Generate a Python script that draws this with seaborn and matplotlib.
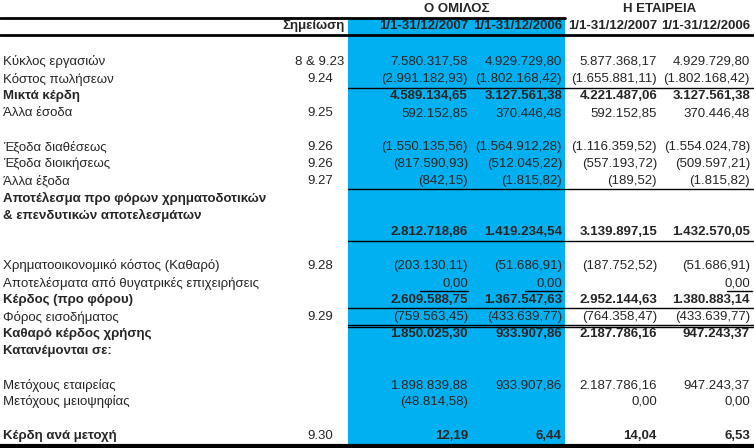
import matplotlib
matplotlib.use("Agg")
import matplotlib.pyplot as plt
import seaborn as sns

sns.set_theme(style="white", rc={"font.family": ["Liberation Sans Narrow", "Liberation Sans", "DejaVu Sans"]})

BLUE = "#00b0f0"

# (label, note, group 2007, group 2006, company 2007, company 2006, bold)
labels = [
    "Κύκλος εργασιών", "Κόστος πωλήσεων", "Μικτά κέρδη", "Άλλα έσοδα", "",
    "Έξοδα διαθέσεως", "Έξοδα διοικήσεως", "Άλλα έξοδα",
    "Αποτέλεσμα προ φόρων χρηματοδοτικών", "& επενδυτικών αποτελεσμάτων", "", "",
    "Χρηματοοικονομικό κόστος (Καθαρό)", "Αποτελέσματα από θυγατρικές επιχειρήσεις",
    "Κέρδος (προ φόρου)", "Φόρος εισοδήματος", "Καθαρό κέρδος χρήσης", "Κατανέμονται σε:", "",
    "Μετόχους εταιρείας", "Μετόχους μειοψηφίας", "", "Κέρδη ανά μετοχή",
]
notes = ["8 & 9.23", "9.24", "", "9.25", "", "9.26", "9.26", "9.27", "", "", "", "",
         "9.28", "", "", "9.29", "", "", "", "", "", "", "9.30"]
group_2007 = ["7.580.317,58", "(2.991.182,93)", "4.589.134,65", "592.152,85", "",
              "(1.550.135,56)", "(817.590,93)", "(842,15)", "", "", "2.812.718,86", "",
              "(203.130,11)", "0,00", "2.609.588,75", "(759.563,45)", "1.850.025,30", "", "",
              "1.898.839,88", "(48.814,58)", "", "12,19"]
group_2006 = ["4.929.729,80", "(1.802.168,42)", "3.127.561,38", "370.446,48", "",
              "(1.564.912,28)", "(512.045,22)", "(1.815,82)", "", "", "1.419.234,54", "",
              "(51.686,91)", "0,00", "1.367.547,63", "(433.639,77)", "933.907,86", "", "",
              "933.907,86", "", "", "6,44"]
company_2007 = ["5.877.368,17", "(1.655.881,11)", "4.221.487,06", "592.152,85", "",
                "(1.116.359,52)", "(557.193,72)", "(189,52)", "", "", "3.139.897,15", "",
                "(187.752,52)", "", "2.952.144,63", "(764.358,47)", "2.187.786,16", "", "",
                "2.187.786,16", "0,00", "", "14,04"]
company_2006 = ["4.929.729,80", "(1.802.168,42)", "3.127.561,38", "370.446,48", "",
                "(1.554.024,78)", "(509.597,21)", "(1.815,82)", "", "", "1.432.570,05", "",
                "(51.686,91)", "0,00", "1.380.883,14", "(433.639,77)", "947.243,37", "", "",
                "947.243,37", "0,00", "", "6,53"]
bold_rows = {2, 8, 9, 10, 14, 16, 17, 22}
periods = ["1/1-31/12/2007", "1/1-31/12/2006", "1/1-31/12/2007", "1/1-31/12/2006"]

fig = plt.figure(figsize=(7.54, 4.48), dpi=100)
ax = fig.add_axes([0, 0, 1, 1])
ax.set_xlim(0, 754)
ax.set_ylim(448, 0)
ax.axis("off")

ax.axvspan(348, 565, ymin=0, ymax=1 - 18 / 448, color=BLUE, lw=0)

fs = 9.5
ax.text(457, 9, "Ο ΟΜΙΛΟΣ", ha="center", va="center", fontsize=fs, fontweight="bold")
ax.text(660, 9, "Η ΕΤΑΙΡΕΙΑ", ha="center", va="center", fontsize=fs, fontweight="bold")
ax.plot([0, 565], [18, 18], color="black", lw=2)
ax.text(345, 26, "Σημείωση", ha="right", va="center", fontsize=fs, fontweight="bold")
col_right = [468, 562, 657, 750]
for x, p in zip(col_right, periods):
    ax.text(x, 26, p, ha="right", va="center", fontsize=fs, fontweight="bold")
ax.plot([0, 754], [35, 35], color="black", lw=2)

y0, dy = 62, 17
cols = [group_2007, group_2006, company_2007, company_2006]
for i, lab in enumerate(labels):
    y = y0 + i * dy
    w = "bold" if i in bold_rows else "normal"
    ax.text(3, y, lab, ha="left", va="center", fontsize=fs, fontweight=w)
    if notes[i]:
        ax.text(320, y, notes[i], ha="center", va="center", fontsize=fs)
    for x, col in zip(col_right, cols):
        if col[i]:
            ax.text(x, y, col[i], ha="right", va="center", fontsize=fs, fontweight=w)

for y in [88, 189, 241, 308, 325, 327.5]:
    ax.plot([348, 754], [y, y], color="black", lw=1)
# underlines under the 0,00 row
for x in [(420, 468), (525, 562), (727, 752)]:
    ax.plot(x, [291, 291], color="black", lw=1)
ax.plot([0, 754], [446, 446], color="black", lw=3)

fig.savefig("out.png", dpi=100)
